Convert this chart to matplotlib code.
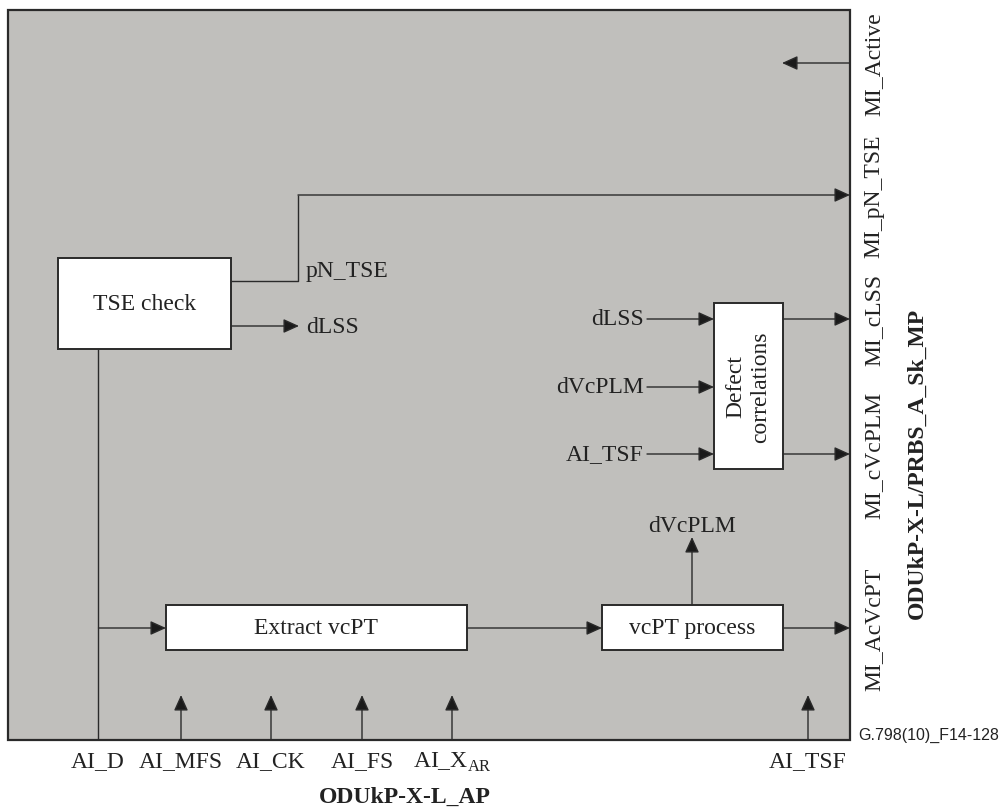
import matplotlib
matplotlib.use('Agg')
import matplotlib.pyplot as plt
from matplotlib.patches import Rectangle

plt.rcParams['font.family'] = ['Liberation Serif', 'DejaVu Serif']
plt.rcParams['mathtext.fontset'] = 'custom'
plt.rcParams['mathtext.rm'] = 'Liberation Serif'

# labels
bottom_inputs = ['AI_D', 'AI_MFS', 'AI_CK', 'AI_FS', 'AI_X$_{\\mathrm{AR}}$', 'AI_TSF']
bottom_x = [98, 181, 271, 362, 452, 808]
right_outputs = ['MI_Active', 'MI_pN_TSE', 'MI_cLSS', 'MI_cVcPLM', 'MI_AcVcPT']
right_y = [64, 196, 320, 455, 629]
defect_inputs = ['dLSS', 'dVcPLM', 'AI_TSF']
defect_y = [320, 388, 455]

GRAY = '#c0bfbc'
INK = '#2a2a2a'
FS = 17

fig = plt.figure(figsize=(10.02, 8.12), dpi=100)
ax = fig.add_axes([0, 0, 1, 1])
ax.set_xlim(0, 1002)
ax.set_ylim(812, 0)
ax.axis('off')


def arrow(x0, y0, x1, y1):
    ax.annotate('', xy=(x1, y1), xytext=(x0, y0),
                arrowprops=dict(arrowstyle='-|>,head_length=0.95,head_width=0.43',
                                mutation_scale=10, shrinkA=0, shrinkB=0,
                                lw=1.0, color=INK, fc='#1a1a1a'))


def line(xs, ys):
    ax.plot(xs, ys, color=INK, lw=1.0, solid_capstyle='butt')


def box(x0, y0, x1, y1, txt, **kw):
    ax.add_patch(Rectangle((x0, y0), x1 - x0, y1 - y0, fc='white', ec=INK, lw=1.4, zorder=3))
    ax.text((x0 + x1) / 2, (y0 + y1) / 2, txt, ha='center', va='center',
            fontsize=FS, color='#222222', zorder=4, **kw)


# outer block
ax.add_patch(Rectangle((8, 11), 842, 730, fc=GRAY, ec=INK, lw=1.6, zorder=1))

# TSE check
box(58, 259, 231, 350, 'TSE check')
line([231, 298, 298], [282, 282, 196])
arrow(298, 196, 850, 196)
ax.text(306, 272, 'pN_TSE', fontsize=FS, ha='left', va='center', color='#222222')
arrow(231, 327, 299, 327)
ax.text(306, 328, 'dLSS', fontsize=FS, ha='left', va='center', color='#222222')

# AI_D path
line([98.5, 98.5], [350, 741])
arrow(98.5, 629, 166, 629)

# Extract vcPT / vcPT process
box(166, 606, 467, 651, 'Extract vcPT')
arrow(467, 629, 602, 629)
box(602, 606, 783, 651, 'vcPT process')
arrow(783, 629, 850, 629)
arrow(692, 606, 692, 538)
ax.text(692, 527, 'dVcPLM', fontsize=FS, ha='center', va='center', color='#222222')

# Defect correlations
box(714, 304, 783, 470, 'Defect\ncorrelations', rotation=90, linespacing=1.25)
for lab, y in zip(defect_inputs, defect_y):
    arrow(647, y, 714, y)
    ax.text(644, y, lab, fontsize=FS, ha='right', va='center', color='#222222')
for y in [320, 455]:
    arrow(783, y, 850, y)

# MI_Active
arrow(850, 64, 782, 64)

# bottom inputs
for lab, x in zip(bottom_inputs, bottom_x):
    if lab != 'AI_D':
        arrow(x, 741, x, 696)
    ax.text(x, 762, lab, fontsize=FS, ha='center', va='center', color='#222222')

ax.text(405, 797, 'ODUkP-X-L_AP', fontsize=FS, fontweight='bold', ha='center', va='center',
        color='#222222')

# right outputs
for lab, y in zip(right_outputs, right_y):
    ax.text(874, y, lab, fontsize=FS, rotation=90, ha='center', va='center', color='#222222')
ax.text(917, 463, 'ODUkP-X-L/PRBS_A_Sk_MP', fontsize=FS, fontweight='bold', rotation=90,
        ha='center', va='center', color='#222222')

ax.text(858, 735, 'G.798(10)_F14-128', fontsize=11.5, family='Liberation Sans',
        ha='left', va='center', color='#222222')

fig.savefig('out.png', dpi=100)
